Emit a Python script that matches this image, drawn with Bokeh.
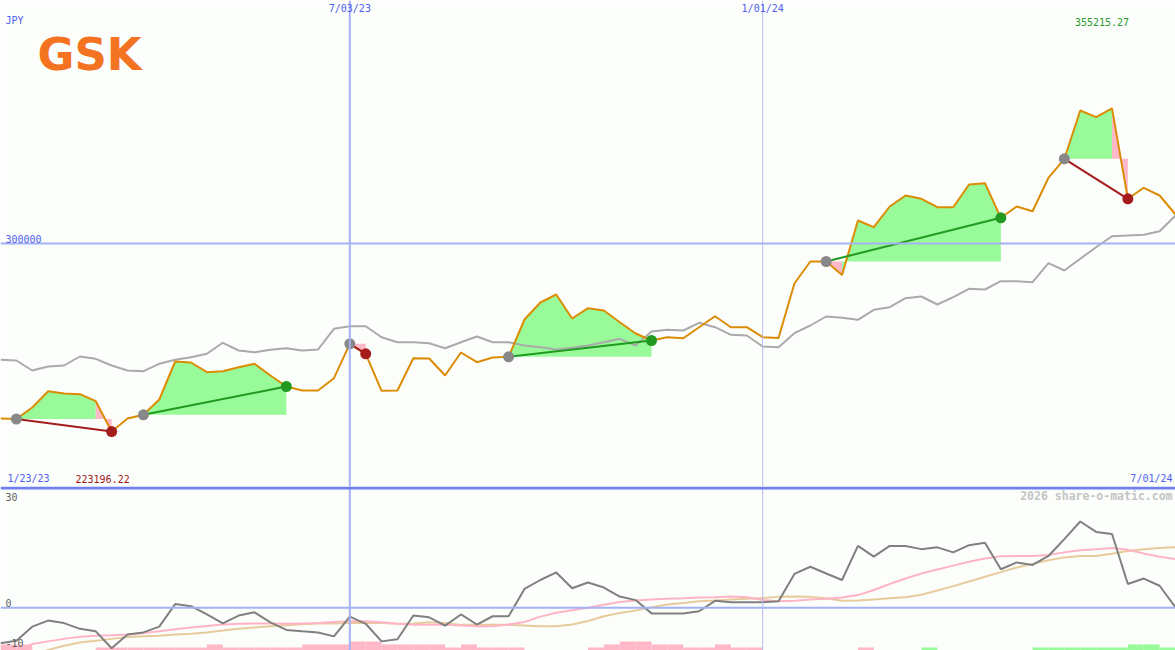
from bokeh.plotting import figure
from bokeh.models import Range1d, Span, Label
from bokeh.layouts import column
from bokeh.embed import file_html
from bokeh.resources import INLINE

# ---------------- data ----------------
currency = "JPY"
start_label = "1/23/23"
end_label = "7/01/24"
date_tick_idx = [22, 48]
date_tick_labels = ["7/03/23", "1/01/24"]
price_grid = [300000]
osc_grid = [0]

close = [228513, 228308, 233006, 239665, 238725, 238439, 235580, 223196.22, 228513, 230024,
         236274, 251797, 251389, 247426, 247835, 249469, 250857, 246078, 241585, 239951,
         239951, 244975, 259028, 254942, 239828, 239951, 253145, 253023, 246078, 255473,
         251511, 253431, 253717, 268954, 275898, 279167, 269363, 273570, 272630, 267851,
         263235, 260376, 261724, 261315, 265809, 270302, 265809, 265809, 261724, 261397,
         283660, 292647, 292647, 287132, 309396, 306659, 315115, 319608, 318260, 314829,
         314829, 324102, 324633, 310498, 315115, 313195, 326838, 334600, 354331, 351594,
         355215.27, 318260, 322753, 319608, 311847]

ma = [252491, 252206, 248121, 249755, 250163, 253840, 252900, 250163, 248121, 247835,
      250857, 252491, 253554, 254942, 259436, 256290, 255596, 256576, 257230, 256290,
      256699, 265155, 266217, 266217, 261724, 259681, 259681, 259272, 257230, 259681,
      262010, 259681, 259681, 258333, 257639, 256699, 257394, 258333, 259681, 261069,
      258333, 264052, 264746, 264460, 267606, 265809, 262704, 262418, 257925, 257639,
      263358, 266503, 270180, 269649, 268832, 272916, 273978, 277655, 278350, 275082,
      278064, 281495, 281209, 284599, 284599, 284191, 291953, 288971, 293750, 298489,
      302982, 303268, 303554, 305025, 311438]

entries = [1, 9, 22, 32, 52, 67]
exits = [7, 18, 23, 41, 63, 71]

osc = [-9.9, -9.2, -5.3, -3.6, -4.3, -5.9, -6.6, -11.3, -7.5, -6.9,
       -5.3, 1.0, 0.4, -1.9, -4.4, -2.2, -1.3, -4.1, -6.2, -6.6,
       -6.9, -8.0, -2.5, -4.5, -9.4, -8.8, -2.2, -2.7, -5.0, -1.9,
       -4.7, -2.4, -2.4, 5.2, 7.7, 9.8, 5.4, 7.0, 5.6, 3.1,
       2.1, -1.6, -1.6, -1.6, -1.0, 1.9, 1.5, 1.5, 1.5, 1.8,
       9.4, 11.4, 9.5, 7.7, 17.2, 14.2, 17.2, 17.2, 16.3, 16.8,
       15.4, 17.4, 18.1, 10.7, 12.6, 11.9, 14.4, 19.1, 24.0, 21.1,
       20.5, 6.6, 8.1, 6.1, 0.1]

osc_fast = [-13.5, -13.0, -10.1, -9.4, -8.7, -8.1, -7.8, -7.7, -7.5, -7.1,
            -6.6, -6.0, -5.5, -5.1, -4.7, -4.5, -4.4, -4.4, -4.5, -4.4,
            -4.3, -4.0, -3.8, -3.8, -4.1, -4.5, -4.8, -4.8, -4.8, -5.0,
            -5.2, -5.2, -4.7, -4.0, -2.5, -1.4, -0.7, 0.0, 0.8, 1.6,
            2.0, 2.3, 2.5, 2.6, 2.8, 2.9, 3.1, 2.9, 2.1, 1.8,
            1.9, 2.3, 2.5, 2.8, 3.5, 4.9, 6.6, 8.1, 9.5, 10.6,
            11.7, 12.8, 13.7, 14.3, 14.4, 14.4, 14.7, 15.4, 16.0, 16.3,
            16.6, 16.1, 15.1, 14.2, 13.5]

osc_slow = [-14.5, -14.0, -13.2, -11.8, -10.6, -9.7, -9.2, -8.7, -8.2, -8.0,
            -7.8, -7.5, -7.3, -6.9, -6.4, -5.9, -5.5, -5.2, -4.9, -4.6,
            -4.4, -4.4, -4.3, -4.3, -4.3, -4.5, -4.4, -4.1, -4.3, -4.8,
            -4.8, -4.8, -4.8, -5.0, -5.2, -5.2, -4.7, -3.7, -2.4, -1.5,
            -0.8, 0.1, 0.9, 1.3, 1.8, 2.0, 2.3, 2.5, 2.7, 3.0,
            3.1, 3.0, 2.6, 1.9, 2.0, 2.3, 2.6, 2.9, 3.6, 4.8,
            6.0, 7.3, 8.6, 9.9, 11.2, 12.2, 13.2, 14.0, 14.4, 14.4,
            15.0, 15.8, 16.3, 16.6, 16.8]

hist = [-1.7, -1.7, 0, 0, 0, 0, -0.85, -0.85, -0.85, -0.85,
        -0.85, -0.85, -0.85, -1.7, -0.85, -0.85, -0.85, -0.85, -0.85, -1.7,
        -1.7, -1.7, -2.5, -2.5, -1.7, -1.7, -1.7, -1.7, -0.85, -1.7,
        -0.85, -0.85, -0.85, 0, 0, 0, 0, -0.85, -1.7, -2.5,
        -2.5, -1.7, -1.7, -0.85, -0.85, -1.7, -0.85, -0.85, 0, 0,
        0, 0, 0, 0, -0.85, 0, 0, 0, 0.85, 0,
        0, 0, 0, 0, 0, 0.85, 0.85, 0.85, 0.85, 0.85,
        0.85, 1.7, 1.7, 0.85]

# ---------------- styling ----------------
W, H1, H2 = 1175, 486, 164
BG = "#fcfefc"
BLUE_TXT = "#5060ee"
GRID = "#a4b2f4"
FONT = "DejaVu Sans Mono"
ORANGE = "#dc8c04"
GREEN_FILL = "#98fa98"
PINK_FILL = "#ffb8c8"

n = len(close)
xs_idx = list(range(n))
xr = Range1d(0, n - 1)

P_LO, P_HI = 200734.5, 399265.5
O_LO, O_HI = -11.94, 33.75


def make_fig(h, yr):
    p = figure(width=W, height=h, x_range=xr, y_range=yr, output_backend="svg",
               toolbar_location=None, min_border=0, x_axis_location=None,
               y_axis_location=None, background_fill_color=BG, border_fill_color=BG,
               outline_line_color=None)
    p.grid.visible = False
    return p


# ---------------- top panel ----------------
p1 = make_fig(H1, Range1d(P_LO, P_HI))

for v in price_grid:
    p1.add_layout(Span(location=v, dimension="width", line_color=GRID, line_width=2))
p1.add_layout(Span(location=date_tick_idx[0], dimension="height", line_color=GRID, line_width=2))
p1.add_layout(Span(location=date_tick_idx[1], dimension="height", line_color="#b4bced", line_width=1))

# trade fills: runs of intervals, green where the price ends above entry, pink below
fills = {GREEN_FILL: ([], []), PINK_FILL: ([], [])}
for en, ex in zip(entries, exits):
    base = close[en]
    run_start, run_col = en, None
    for i in range(en, ex + 1):
        col = None if i == ex else (GREEN_FILL if close[i + 1] >= base else PINK_FILL)
        if col != run_col:
            if run_col is not None:
                px = [run_start] + list(range(run_start, i + 1)) + [i]
                py = [base] + [close[k] for k in range(run_start, i + 1)] + [base]
                fills[run_col][0].append(px)
                fills[run_col][1].append(py)
            run_start, run_col = i, col
for col, (fx, fy) in fills.items():
    p1.patches(fx, fy, fill_color=col, line_color=None)

p1.line(xs_idx, ma, line_color="#aaaaaa", line_width=2)
p1.line(xs_idx, close, line_color=ORANGE, line_width=2)

seg_col = ["#229a22" if close[x] > close[e] else "#a41c1c" for e, x in zip(entries, exits)]
p1.segment(x0=entries, y0=[close[e] for e in entries], x1=exits, y1=[close[x] for x in exits],
           line_color=seg_col, line_width=2)
p1.scatter(entries, [close[e] for e in entries], size=11, fill_color="#888888", line_color=None)
p1.scatter(exits, [close[x] for x in exits], size=11, fill_color=seg_col, line_color=None)


def lab(p, text, x, y, color, align="left", xu="screen", yu="screen", size="10px",
        style="normal", font=FONT, baseline="middle", yoff=0):
    p.add_layout(Label(x=x, y=y, x_units=xu, y_units=yu, text=text, text_color=color,
                       text_font=font, text_font_size=size, text_font_style=style,
                       text_align=align, text_baseline=baseline, y_offset=yoff))


for idx, t in zip(date_tick_idx, date_tick_labels):
    lab(p1, t, idx, H1 - 8, BLUE_TXT, align="center", xu="data")
lab(p1, currency, 5, H1 - 20, BLUE_TXT)
lab(p1, f"{max(close):.2f}", 1101.5, H1 - 21, "#2a9a2a", align="center")
for v in price_grid:
    lab(p1, str(v), 5, v, BLUE_TXT, yu="data", yoff=5)
lab(p1, start_label, 7, 8, BLUE_TXT)
lab(p1, f"{min(close):.2f}", 75, 8, "#a01818")
lab(p1, end_label, 1172, 8, BLUE_TXT, align="right")
lab(p1, "GSK", 37, H1 - 54, "#f47321", size="45px", style="bold",
    font="DejaVu Sans", baseline="middle")

# ---------------- bottom panel ----------------
p2 = make_fig(H2, Range1d(O_LO, O_HI))
hx = [i + 0.5 for i in range(len(hist))]
hcol = [GREEN_FILL if v > 0 else PINK_FILL for v in hist]
p2.vbar(x=hx, width=1, bottom=O_LO, top=[O_LO + abs(v) for v in hist],
        fill_color=hcol, line_color=None)
for v in osc_grid:
    p2.add_layout(Span(location=v, dimension="width", line_color=GRID, line_width=2))
p2.add_layout(Span(location=date_tick_idx[0], dimension="height", line_color=GRID, line_width=2))
p2.add_layout(Span(location=date_tick_idx[1], dimension="height", line_color="#b4bced", line_width=1))
p2.add_layout(Span(location=33.33, dimension="width", line_color="#6f7ff0", line_width=3))

p2.line(xs_idx, osc_slow, line_color="#e6cc9c", line_width=2)
p2.line(xs_idx, osc_fast, line_color="#ffb4c6", line_width=2)
p2.line(xs_idx, osc, line_color="#808080", line_width=2)

lab(p2, "2026 share-o-matic.com", 1172, H2 - 9, "#c4c4c4", align="right",
    size="11.5px", style="bold")
lab(p2, "30", 5, 30, "#606060", yu="data", yoff=3)
lab(p2, "0", 5, 0, "#606060", yu="data", yoff=5)
lab(p2, "-10", 5, -10, "#606060", yu="data", yoff=1)

layout = column(p1, p2, spacing=0)
open("out.html", "w").write(file_html(layout, INLINE))
